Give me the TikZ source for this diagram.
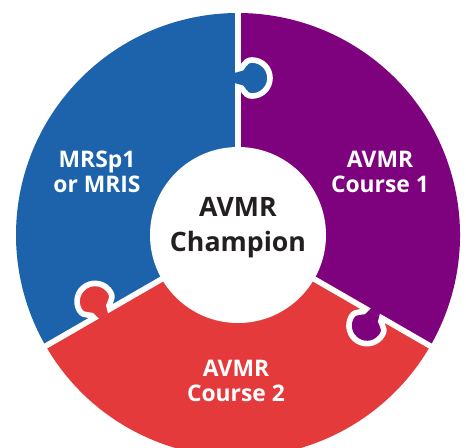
\documentclass[tikz,border=0pt]{standalone}
\usepackage{fontspec}
\setmainfont{Open Sans}
\definecolor{avmrblue}{HTML}{1C63AC}
\definecolor{avmrpurple}{HTML}{7E027D}
\definecolor{avmrred}{HTML}{E53A3B}
\definecolor{avmrtext}{HTML}{231F20}

\begin{document}
\begin{tikzpicture}[x=0.02cm, y=0.02cm,
    seam/.style={white, line width=3.2pt},
    lbl/.style={white, align=center, font=\fontsize{13}{14.4}\selectfont\bfseries},
    hub/.style={avmrtext, align=center, font=\fontsize{15.2}{20}\selectfont\bfseries}]
    \useasboundingbox (-238,-212) rectangle (228,235);
    \fill[avmrblue] (0,0) -- (90:222) arc[start angle=90, end angle=210, radius=222] -- cycle;
    \fill[avmrred] (0,0) -- (210:222) arc[start angle=210, end angle=330, radius=222] -- cycle;
    \fill[avmrpurple] (0,0) -- (330:222) arc[start angle=-30, end angle=90, radius=222] -- cycle;
    % puzzle knobs, each one pushing clockwise into the next piece
    \foreach \ang/\col in {90/avmrblue, 210/avmrred, 330/avmrpurple} {
      \begin{scope}[rotate=\ang]
        \fill[\col] (148,0) .. controls (149,-6) and (139,-5) .. (139,-14)
          arc[start angle=180, end angle=360, radius=18]
          .. controls (175,-5) and (165,-6) .. (166,0) -- cycle;
        \draw[seam] (85,0) -- (148,0) .. controls (149,-6) and (139,-5) .. (139,-14)
          arc[start angle=180, end angle=360, radius=18]
          .. controls (175,-5) and (165,-6) .. (166,0) -- (226,0);
      \end{scope}
    }
    \fill[white] (0,0) circle[radius=88];
    \node[hub] (champion) at (0,7) {AVMR\\Champion};
    \node[lbl] (mrsp) at (-141,63) {MRSp1\\or MRIS};
    \node[lbl] (course1) at (142,63) {AVMR\\Course 1};
    \node[lbl] (course2) at (-2,-146) {AVMR\\Course 2};
\end{tikzpicture}
\end{document}
